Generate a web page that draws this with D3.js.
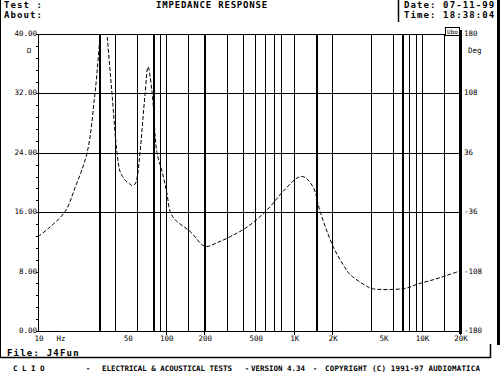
<!DOCTYPE html>
<html><head><meta charset="utf-8">
<script src="https://cdn.jsdelivr.net/npm/d3@7"></script>
<style>body{margin:0;background:#fff}svg{display:block}</style>
</head><body><svg id="c" width="500" height="374"></svg>
<script>
// ---- data ----
const freqs = [10,12.4,16.3,19.5,24.2,27.9,30.6,32.5,34.7,37.9,41.5,43.8,45.9,48,50.6,54.4,57.4,59.5,62.8,68.7,72.6,78,85.3,93.4,102,108,118,155,203,252,318,432,619,826,1063,1185,1419,1609,2033,2525,2762,3752,4107,5998,7714,9245,12330,15850,20000];
const ohms  = [12.7,14.0,16.1,19.3,24.0,32.0,39.9,46,39.9,32.0,24.0,21.5,20.8,20.3,20.0,19.6,19.8,20.6,24.0,31.8,35.6,32.2,24.0,21.5,18.5,16.1,15.0,13.4,11.4,11.9,12.7,14.0,16.3,18.8,20.6,20.8,19.4,16.1,11.4,8.5,7.6,6.0,5.7,5.6,5.8,6.3,6.9,7.5,8.1];
const gridFreqs = [30,40,60,80,90,100,150,200,300,400,500,600,700,800,1000,1500,2000,4000,6000,7000,8000,9000,10000,15000];
const thickGrid = [30,80,200,1500,7000];
const xTickVals = [10,50,100,200,500,1000,2000,5000,10000,20000];
const xTickLabels = ["10","50","100","200","500","1K","2K","5K","10K","20K"];
const xSmallTicks = [100,200,1000,2000,20000];
const yTickVals = [0,8,16,24,32,40];
const yTickLabels = ["0.00","8.00","16.00","24.00","32.00","40.00"];
const yGridVals = [16,24,32];
const phaseLabels = ["-180","-108","-36","36","108","180"];

const svg = d3.select("#c");
const L=38,R=460,T=34,B=331;
const x = d3.scaleLog().domain([10,20000]).range([L,R]);
const y = d3.scaleLinear().domain([0,40]).range([B,T]);
const mono = "'DejaVu Sans Mono', monospace";

svg.append("rect").attr("width",500).attr("height",374).attr("fill","#fff");

// header
const hdr = svg.append("g").attr("font-family",mono).attr("font-weight","bold").attr("font-size",9).attr("letter-spacing",1.1).attr("fill","#000");
hdr.append("text").attr("x",4).attr("y",8).text("Test :");
hdr.append("text").attr("x",4).attr("y",18).text("About:");
hdr.append("text").attr("x",212).attr("y",8).attr("text-anchor","middle").attr("letter-spacing",0.8).text("IMPEDANCE RESPONSE");
hdr.append("text").attr("x",404).attr("y",8).text("Date: 07-11-99");
hdr.append("text").attr("x",404).attr("y",18).text("Time: 18:38:04");
svg.append("line").attr("x1",398.5).attr("x2",398.5).attr("y1",0).attr("y2",22).attr("stroke","#000").attr("stroke-width",1.5);

// frame lines
svg.append("line").attr("x1",0.5).attr("x2",0.5).attr("y1",0).attr("y2",357).attr("stroke","#000");
svg.append("line").attr("x1",498.5).attr("x2",498.5).attr("y1",0).attr("y2",345).attr("stroke","#000").attr("stroke-width",3);

// grid
const g = svg.append("g").attr("shape-rendering","crispEdges");
g.selectAll(".vg").data(gridFreqs).join("line")
  .attr("x1",d=>Math.round(x(d))+0.5).attr("x2",d=>Math.round(x(d))+0.5)
  .attr("y1",T).attr("y2",B).attr("stroke","#000")
  .attr("stroke-width",d=>thickGrid.includes(d)?2:1);
g.selectAll(".hg").data(yGridVals).join("line")
  .attr("x1",L).attr("x2",R).attr("y1",d=>Math.round(y(d))+0.5).attr("y2",d=>Math.round(y(d))+0.5)
  .attr("stroke","#000").attr("stroke-width",1.5);
// plot border
g.append("line").attr("x1",L).attr("x2",R).attr("y1",T+0.5).attr("y2",T+0.5).attr("stroke","#000").attr("stroke-width",1.5);
g.append("line").attr("x1",L).attr("x2",R+1).attr("y1",B+0.5).attr("y2",B+0.5).attr("stroke","#000").attr("stroke-width",1.5);
g.append("line").attr("x1",L+0.5).attr("x2",L+0.5).attr("y1",T).attr("y2",B+1).attr("stroke","#000").attr("stroke-width",1.5);
g.append("line").attr("x1",R+0.5).attr("x2",R+0.5).attr("y1",T-4).attr("y2",B+3).attr("stroke","#000").attr("stroke-width",2.5);

// left minor ticks
const minor = d3.range(0,40.01,1.6);
g.selectAll(".mt").data(minor).join("line")
  .attr("x1",L-2).attr("x2",L).attr("y1",d=>Math.round(y(d))+0.5).attr("y2",d=>Math.round(y(d))+0.5)
  .attr("stroke","#000");
// bottom small ticks
g.selectAll(".bt").data(xSmallTicks).join("line")
  .attr("x1",d=>Math.round(x(d))+0.5).attr("x2",d=>Math.round(x(d))+0.5)
  .attr("y1",B).attr("y2",B+4).attr("stroke","#000");

// labels
const lab = svg.append("g").attr("font-family",mono).attr("font-size",7.5).attr("fill","#000");
lab.selectAll(".yl").data(yTickVals).join("text")
  .attr("x",L-1).attr("y",d=>y(d)+2).attr("text-anchor","end")
  .text((d,i)=>yTickLabels[i]);
lab.append("text").attr("x",29).attr("y",53).attr("text-anchor","middle").text("Ω");
lab.selectAll(".pl").data(yTickVals).join("text")
  .attr("x",R+4).attr("y",d=>y(d)+2)
  .text((d,i)=>phaseLabels[i]);
lab.append("text").attr("x",R+8).attr("y",53).text("Deg");
lab.selectAll(".xl").data(xTickVals).join("text")
  .attr("x",d=>x(d)+1).attr("y",B+10).attr("text-anchor","middle")
  .text((d,i)=>xTickLabels[i]);
lab.append("text").attr("x",61).attr("y",B+10).attr("text-anchor","middle").text("Hz");

// Ubo box
svg.append("rect").attr("x",445.5).attr("y",27.5).attr("width",14).attr("height",8).attr("fill","#fff").attr("stroke","#000");
svg.append("text").attr("x",452.5).attr("y",34).attr("text-anchor","middle").attr("font-family",mono).attr("font-size",6).text("Ubo");

// curve
svg.append("clipPath").attr("id","clip").append("rect").attr("x",L).attr("y",T).attr("width",R-L).attr("height",B-T);
const pts = freqs.map((f,i)=>[f,ohms[i]]);
const line = d3.line().x(d=>x(d[0])).y(d=>y(d[1])).curve(d3.curveCatmullRom.alpha(0.5));
svg.append("path").attr("d",line(pts)).attr("clip-path","url(#clip)")
  .attr("fill","none").attr("stroke","#000").attr("stroke-width",1).attr("stroke-dasharray","4,2");

// footer
svg.append("line").attr("x1",0).attr("x2",490).attr("y1",357.5).attr("y2",357.5).attr("stroke","#000").attr("stroke-width",1.5);
svg.append("line").attr("x1",490.5).attr("x2",490.5).attr("y1",344).attr("y2",358).attr("stroke","#000").attr("stroke-width",1.5);
svg.append("text").attr("x",7).attr("y",356).attr("font-family",mono).attr("font-weight","bold").attr("font-size",9).attr("letter-spacing",1.2).text("File: J4Fun");
const ft = svg.append("g").attr("font-family",mono).attr("font-size",7.5).attr("font-weight","bold");
ft.append("text").attr("x",13).attr("y",371).attr("letter-spacing",4.5).text("CLIO");
ft.append("text").attr("x",88).attr("y",371).attr("text-anchor","middle").text("-");
ft.append("text").attr("x",102).attr("y",371).attr("textLength",130).text("ELECTRICAL & ACOUSTICAL TESTS");
ft.append("text").attr("x",247).attr("y",371).attr("text-anchor","middle").text("-");
ft.append("text").attr("x",251).attr("y",371).attr("textLength",54).text("VERSION 4.34");
ft.append("text").attr("x",315).attr("y",371).attr("text-anchor","middle").text("-");
ft.append("text").attr("x",325).attr("y",371).attr("textLength",155).text("COPYRIGHT (C) 1991-97 AUDIOMATICA");
</script></body></html>
